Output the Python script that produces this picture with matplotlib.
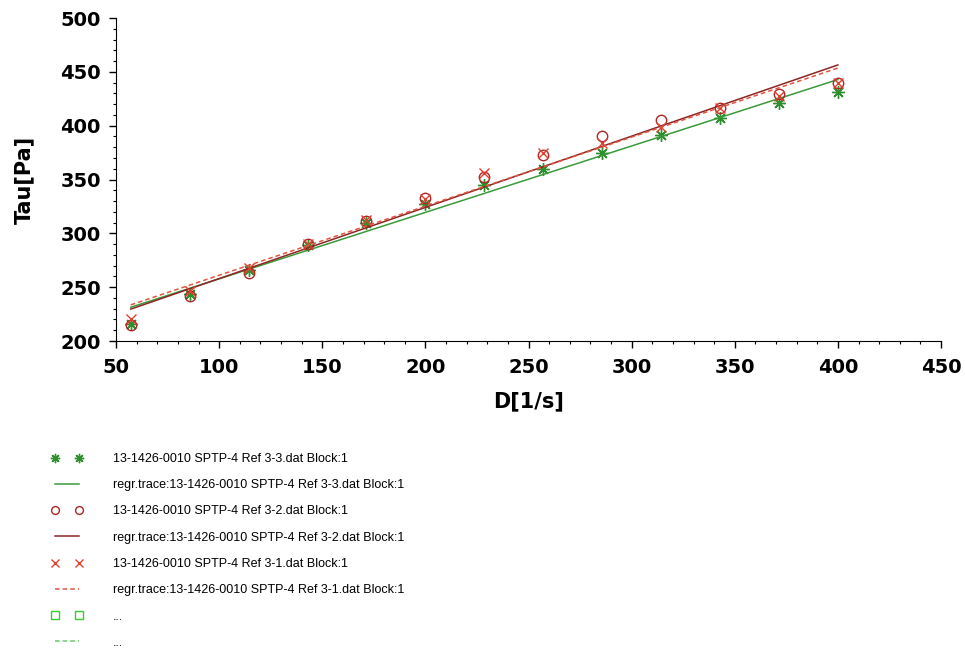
import numpy as np
import matplotlib.pyplot as plt
from matplotlib.lines import Line2D
from matplotlib.ticker import MultipleLocator

plt.rcParams['font.family'] = ['Liberation Sans', 'DejaVu Sans']

# shear rate steps, same for all three runs
shear_rate = [57.14, 85.71, 114.29, 142.86, 171.43, 200.0, 228.57,
              257.14, 285.71, 314.29, 342.86, 371.43, 400.0]

# shear stress of each run
tau_ref33 = [216, 244, 266, 289, 310, 327, 345, 360, 375, 391, 407, 421, 431]
tau_ref32 = [215, 242, 263, 290, 311, 333, 352, 373, 390, 405, 416, 429, 440]
tau_ref31 = [220, 246, 268, 290, 312, 332, 356, 375, 384, 399, 416, 428, 440]

names = ['13-1426-0010 SPTP-4 Ref 3-3.dat Block:1',
         '13-1426-0010 SPTP-4 Ref 3-2.dat Block:1',
         '13-1426-0010 SPTP-4 Ref 3-1.dat Block:1']

x = np.array(shear_rate)


def regr_trace(y):
    # straight line least squares fit through one run
    b1, b0 = np.polyfit(x, np.array(y), 1)
    return b0 + b1 * x


fig = plt.figure(figsize=(9.65, 6.53), dpi=100)
ax = fig.add_axes([116 / 965, 1 - 341 / 653, (941 - 116) / 965, (341 - 18) / 653])

h1, = ax.plot(x, tau_ref33, ls='none', marker=(8, 2, 0), ms=9, mew=1.0,
              color='#2f8f2f')
h2, = ax.plot(x, regr_trace(tau_ref33), color='#3a9a3a', lw=1.1)
h3, = ax.plot(x, tau_ref32, ls='none', marker='o', ms=7.5, mfc='none', mew=1.0,
              color='#b02525')
h4, = ax.plot(x, regr_trace(tau_ref32), color='#8e2424', lw=1.1)
h5, = ax.plot(x, tau_ref31, ls='none', marker='x', ms=7.5, mew=1.0,
              color='#e0402e')
h6, = ax.plot(x, regr_trace(tau_ref31), color='#e0553f', lw=1.1, ls=(0, (3, 2)))

# two empty entries that only show up in the legend
h7 = Line2D([], [], ls='none', marker='s', ms=8, mfc='none', mew=1.0, color='#33cc33')
h8 = Line2D([], [], color='#66cc66', lw=1.1, ls=(0, (3, 2)))

ax.set_xlim(50, 450)
ax.set_ylim(200, 500)
ax.xaxis.set_major_locator(MultipleLocator(50))
ax.xaxis.set_minor_locator(MultipleLocator(10))
ax.yaxis.set_major_locator(MultipleLocator(50))
ax.yaxis.set_minor_locator(MultipleLocator(10))

for s in ['top', 'right']:
    ax.spines[s].set_visible(False)
ax.tick_params(which='major', direction='out', length=5, width=1, labelsize=14)
ax.tick_params(axis='x', which='major', pad=7.5)
ax.tick_params(axis='y', which='major', pad=6)
ax.tick_params(which='minor', direction='out', length=2.5, width=0.8)
for lab in ax.get_xticklabels() + ax.get_yticklabels():
    lab.set_fontweight('bold')
    lab.set_family('DejaVu Sans')

ax.set_xlabel('D[1/s]', fontsize=15, fontweight='bold', family='DejaVu Sans',
              labelpad=10)
ax.set_ylabel('Tau[Pa]', fontsize=15, fontweight='bold', family='DejaVu Sans',
              labelpad=19)

labels = [names[0], 'regr.trace:' + names[0],
          names[1], 'regr.trace:' + names[1],
          names[2], 'regr.trace:' + names[2],
          '...', '...']
fig.legend([h1, h2, h3, h4, h5, h6, h7, h8], labels,
           loc='upper left', bbox_to_anchor=(51 / 965, 1 - 453 / 653),
           frameon=False, fontsize=9, numpoints=2, markerscale=0.75,
           handlelength=2.5, handletextpad=2.45, labelspacing=1.14,
           borderpad=0, borderaxespad=0)

fig.savefig('out.png', dpi=100)
